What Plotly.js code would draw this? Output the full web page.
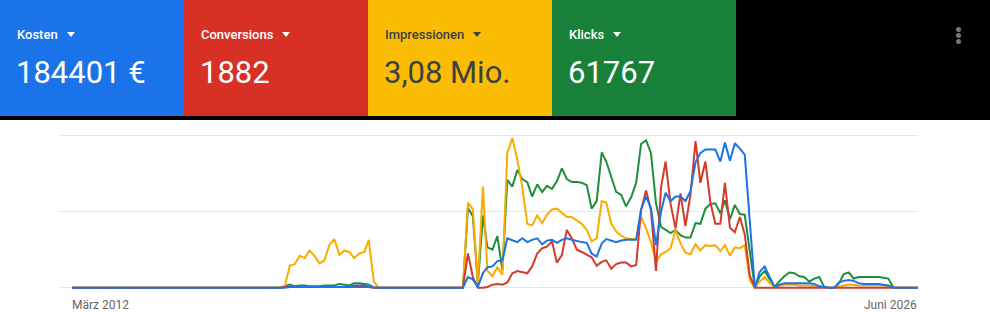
<!DOCTYPE html>
<html>
<head>
<meta charset="utf-8">
<script src="https://cdn.plot.ly/plotly-3.0.1.min.js"></script>
<style>
  html, body { margin:0; padding:0; background:#fff; }
  #wrap { position:relative; width:990px; height:312px; overflow:hidden; font-family: Roboto, "Noto Sans", sans-serif; }
  #chart { position:absolute; left:0; top:0; width:990px; height:312px; }
  #band { position:absolute; left:0; top:0; width:990px; height:120px; background:#000; z-index:2; }
  .tile { position:absolute; top:0; width:184px; height:116px; z-index:3; }
  .lab { position:absolute; left:17px; top:28.4px; font-size:13px; line-height:13px; font-weight:500; white-space:nowrap; }
  .val { position:absolute; left:16px; top:57.2px; font-size:31px; line-height:31px; font-weight:400; white-space:nowrap; }
  .tri { display:inline-block; width:0; height:0; margin-left:9px; border-left:4.5px solid transparent; border-right:4.5px solid transparent; border-top:5px solid currentColor; vertical-align:2.5px; }
  .dot { position:absolute; left:955.5px; width:5px; height:5px; border-radius:50%; background:#767676; z-index:3; }
</style>
</head>
<body>
<div id="wrap">
  <div id="chart"></div>
  <div id="band"></div>
  <div id="tiles"></div>
  <div class="dot" style="top:27px"></div>
  <div class="dot" style="top:33px"></div>
  <div class="dot" style="top:39px"></div>
</div>
<script>
// ---- header metrics ----
const metricNames  = ["Kosten", "Conversions", "Impressionen", "Klicks"];
const metricTotals = ["184401 €", "1882", "3,08 Mio.", "61767"];
const tileColors   = ["#1a73e8", "#d93025", "#fbbc04", "#188038"];
const tileText     = ["#ffffff", "#ffffff", "#3c4043", "#ffffff"];
const lineColors   = ["#1a73e8", "#d33b2c", "#f9ab00", "#1e8e3e"];

// ---- time axis: monthly, März 2012 .. Juni 2026 ----
const startYear = 2012, startMonth = 3, monthCount = 172;
const axisLabels = ["März 2012", "Juni 2026"];

// ---- series (relative), one row per year ----
const kosten = [
  0,0,0,0,0,0,0,0,0,0,                 // 2012
  0,0,0,0,0,0,0,0,0,0,0,0,             // 2013
  0,0,0,0,0,0,0,0,0,0,0,0,             // 2014
  0,0,0,0,0,0,0,0,0,0,1,1,             // 2015
  1,1,1,1,1,1,1,1,1,1,1,3,             // 2016
  3,3,1,0,0,0,0,0,0,0,0,0,             // 2017
  0,0,0,0,0,0,0,0,0,0,14,11,           // 2018
  1,19,27,28,35,36,65,63,60,65,60,63,  // 2019
  65,57,62,63,59,63,65,63,61,60,59,45, // 2020
  41,58,64,62,60,62,63,63,63,103,120,105, // 2021
  56,100,125,114,120,120,114,127,165,177,182,182, // 2022
  182,166,191,167,190,183,175,88,0,21,28,14, // 2023
  1,4,6,6,6,6,6,6,5,2,1,0,             // 2024
  0,7,9,10,9,6,5,5,5,5,4,3,            // 2025
  0,0,0,0,0,0                          // 2026
];
const conversions = [
  0,0,0,0,0,0,0,0,0,0,
  0,0,0,0,0,0,0,0,0,0,0,0,
  0,0,0,0,0,0,0,0,0,0,0,0,
  0,0,0,0,0,0,0,0,0,1,1,1,
  1,1,1,1,1,1,1,1,1,1,1,1,
  1,1,1,0,0,0,0,0,0,0,0,0,
  0,0,0,0,0,0,0,0,0,0,45,14,
  0,0,1,4,5,4,7,19,22,21,19,28,
  45,52,54,61,33,43,76,65,50,47,43,40,
  29,34,36,25,31,33,33,28,30,102,128,102,
  22,132,166,110,78,124,81,122,193,138,166,113,
  84,84,138,79,73,93,70,16,0,0,0,0,
  0,0,0,0,0,0,0,0,0,0,0,0,
  0,0,0,0,0,0,0,0,0,0,0,0,
  0,0,0,0,0,0
];
const impressionen = [
  0,0,0,0,0,0,0,0,0,0,
  0,0,0,0,0,0,0,0,0,0,0,0,
  0,0,0,0,0,0,0,0,0,0,0,0,
  0,0,0,0,0,0,0,0,0,2,29,31,
  42,39,49,42,32,36,56,64,43,49,47,39,
  45,47,63,8,0,0,0,0,0,0,0,0,
  0,0,0,0,0,0,0,0,0,0,112,103,
  6,133,22,15,27,17,177,197,168,133,84,82,
  95,85,96,103,104,98,93,93,88,84,76,61,
  65,114,112,84,74,68,65,64,64,93,78,60,
  34,44,47,52,76,58,46,44,57,49,56,55,
  56,48,56,42,53,52,56,10,0,8,14,6,
  1,3,4,4,4,3,3,3,2,2,1,0,
  0,2,3,4,4,3,3,3,3,3,3,2,
  0,0,0,0,0,0
];
const klicks = [
  0,0,0,0,0,0,0,0,0,0,
  0,0,0,0,0,0,0,0,0,0,0,0,
  0,0,0,0,0,0,0,0,0,0,0,0,
  0,0,0,0,0,0,0,0,0,2,4,2,
  3,3,2,2,2,3,3,3,5,4,3,6,
  6,5,4,0,0,0,0,0,0,0,0,0,
  0,0,0,0,0,0,0,0,0,0,105,94,
  5,95,53,50,68,23,142,133,155,143,139,120,
  136,126,134,130,140,157,143,139,139,138,135,104,
  114,178,166,145,126,122,107,119,138,189,194,177,
  111,80,76,72,76,69,66,66,85,84,104,110,
  111,98,115,90,109,97,96,47,0,15,22,11,
  1,9,15,20,19,15,14,8,12,14,1,0,
  0,6,18,20,12,14,14,14,14,14,13,12,
  0,0,0,0,0,0
];

// ---- header tiles ----
const tilesEl = document.getElementById('tiles');
metricNames.forEach((name, k) => {
  const t = document.createElement('div');
  t.className = 'tile';
  t.style.left = (k * 184) + 'px';
  t.style.background = tileColors[k];
  t.style.color = tileText[k];
  const lab = document.createElement('div');
  lab.className = 'lab';
  const s = document.createElement('span'); s.textContent = name;
  const tri = document.createElement('span'); tri.className = 'tri';
  lab.appendChild(s); lab.appendChild(tri);
  const val = document.createElement('div');
  val.className = 'val';
  val.textContent = metricTotals[k];
  t.appendChild(lab); t.appendChild(val);
  tilesEl.appendChild(t);
});

// ---- dates ----
const dates = [];
for (let k = 0; k < monthCount; k++) {
  const m0 = startMonth - 1 + k;
  const y = startYear + Math.floor(m0 / 12);
  const m = (m0 % 12) + 1;
  dates.push(y + '-' + String(m).padStart(2, '0') + '-01');
}

const seriesOrder = [
  {name: metricNames[3], y: klicks, c: lineColors[3]},
  {name: metricNames[2], y: impressionen, c: lineColors[2]},
  {name: metricNames[1], y: conversions, c: lineColors[1]},
  {name: metricNames[0], y: kosten, c: lineColors[0]}
];
const traces = seriesOrder.map(s => ({
  type: 'scatter', mode: 'lines', name: s.name,
  x: dates, y: s.y,
  line: {color: s.c, width: 2, shape: 'linear'},
  hoverinfo: 'skip'
}));

const labelFont = {family: 'Roboto, sans-serif', size: 12, color: '#666666'};
const layout = {
  width: 990, height: 312,
  margin: {l: 60, r: 72, t: 133, b: 18, pad: 0},
  paper_bgcolor: '#ffffff', plot_bgcolor: '#ffffff',
  showlegend: false,
  xaxis: {
    type: 'date', range: ['2011-12-18', '2026-06-01'],
    showgrid: false, zeroline: false, showline: false,
    showticklabels: false, ticks: '', fixedrange: true
  },
  yaxis: {
    range: [-8.29, 203.55], tick0: 0, dtick: 100,
    showgrid: true, gridcolor: '#e6e6e6', gridwidth: 1,
    zeroline: false, showline: false, showticklabels: false, ticks: '', fixedrange: true
  },
  annotations: [
    {x: dates[0], y: 0, xref: 'x', yref: 'paper', xanchor: 'left', yanchor: 'top',
     text: axisLabels[0], showarrow: false, xshift: -2, yshift: -2, font: labelFont},
    {x: dates[dates.length - 1], y: 0, xref: 'x', yref: 'paper', xanchor: 'right', yanchor: 'top',
     text: axisLabels[1], showarrow: false, xshift: 1, yshift: -2, font: labelFont}
  ]
};

Plotly.newPlot('chart', traces, layout, {displayModeBar: false, staticPlot: true});
</script>
</body>
</html>
